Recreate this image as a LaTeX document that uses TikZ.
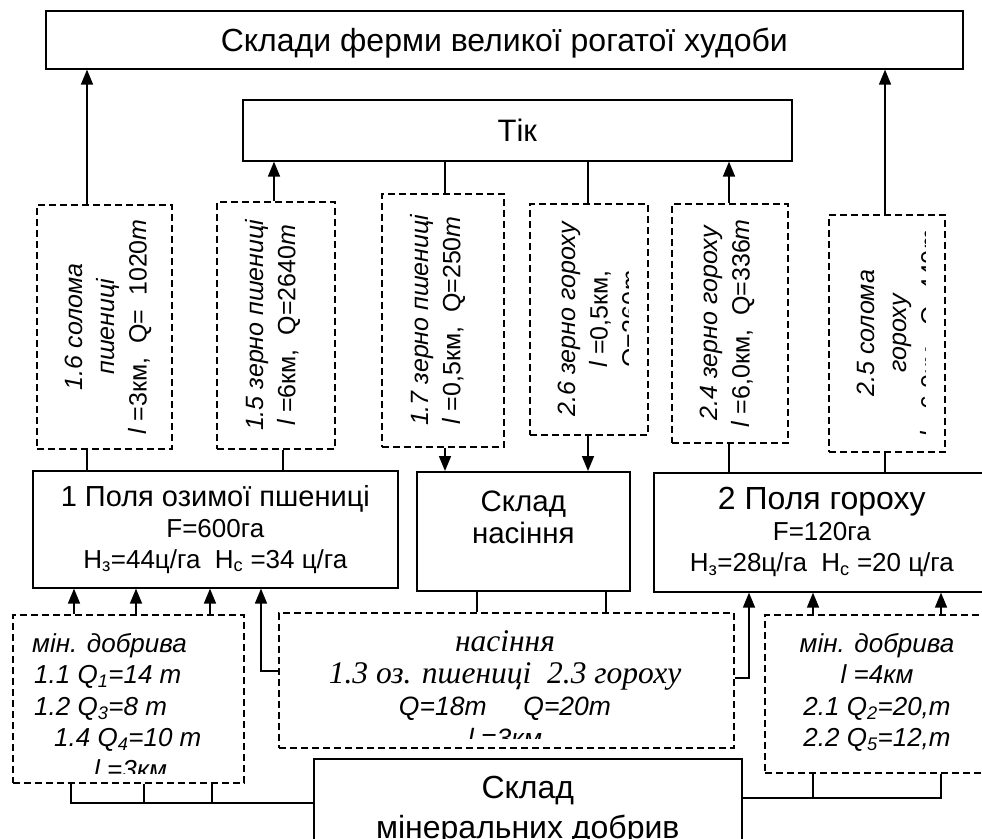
\documentclass[tikz,border=0pt]{standalone}
\usepackage{fontspec}
\setmainfont{Liberation Sans}
\newfontfamily\tnr{Liberation Serif}
\usetikzlibrary{arrows.meta}

\tikzset{
	box/.style={draw,line width=1.6pt,inner sep=0pt,anchor=north west,align=center},
	dashbox/.style={draw,line width=1.5pt,dash pattern={on 7pt off 4pt},inner sep=0pt,anchor=north west},
	flow/.style={line width=1.6pt,-{Triangle[length=15pt,width=12pt]}},
	link/.style={line width=1.6pt},
	vtext/.style={rotate=90,anchor=north,inner sep=0pt,align=center,font=\fontsize{25}{32}\selectfont\itshape},
	ltext/.style={inner sep=0pt,font=\fontsize{26}{31.5}\selectfont\itshape}
}

\begin{document}
\begin{tikzpicture}[x=1pt,y=1pt,yscale=-1,xscale=1]
	\useasboundingbox (0,0) rectangle (982,838);
	\clip (0,0) rectangle (982,838);
	
	%Shape: Rectangle [farm]
	\node[box,minimum width=917pt,minimum height=58pt,text depth=0pt,font=\fontsize{32}{36}\selectfont] (farm) at (45,10) {Склади ферми великої рогатої худоби};
	%Shape: Rectangle [tik]
	\node[box,minimum width=549pt,minimum height=61pt,font=\fontsize{31}{36}\selectfont] (tik) at (242,99) {Тік};
	
	%Shape: Dashed Rectangles (vertical)
	\node[dashbox,minimum width=135pt,minimum height=244pt] (s16) at (36,204) {};
	\node[dashbox,minimum width=118pt,minimum height=247pt] (g15) at (216,201) {};
	\node[dashbox,minimum width=122pt,minimum height=253pt] (g17) at (381,193) {};
	\node[dashbox,minimum width=118pt,minimum height=231pt] (p26) at (529,203) {};
	\node[dashbox,minimum width=116pt,minimum height=239pt] (p24) at (671,203) {};
	\node[dashbox,minimum width=116pt,minimum height=237pt] (s25) at (828,214) {};
	
	% Text Node
	\node[vtext] (t16) at ([xshift=29pt]s16.west) {1.6 солома\\пшениці\\l \textup{=3км,\ \ Q=\ \ 1020}m};
	% Text Node
	\node[vtext] (t15) at ([xshift=29pt]g15.west) {1.5 зерно пшениці\\l \textup{=6км,\ \ Q=2640}m};
	% Text Node
	\node[vtext] (t17) at ([xshift=29pt]g17.west) {1.7 зерно пшениці\\l \textup{=0,5км,\ \ Q=250}m};
	\begin{scope}
		\clip ([shift={(2,2)}]p26.north west) rectangle ([shift={(-20,-2)}]p26.south east);
		% Text Node
		\node[vtext] (t26) at ([xshift=29pt]p26.west) {2.6 зерно гороху\\l \textup{=0,5км,}\\\textup{Q=260}m};
	\end{scope}
	% Text Node
	\node[vtext] (t24) at ([xshift=29pt]p24.west) {2.4 зерно гороху\\l \textup{=6,0км,\ \ Q=336}m};
	\begin{scope}
		\clip ([shift={(2,2)}]s25.north west) rectangle ([shift={(-20,-2)}]s25.south east);
		% Text Node
		\node[vtext] (t25) at ([xshift=29pt]s25.west) {2.5 солома\\гороху\\l \textup{=6,0км,\ \ Q=440}m};
	\end{scope}
	
	%Shape: Rectangle [fields and stores]
	\node[box,minimum width=365pt,minimum height=117pt,font=\fontsize{26}{31}\selectfont] (f1) at (32,470) {{\fontsize{29}{31}\selectfont 1 Поля озимої пшениці}\\F=600га\\H\textsubscript{з}=44ц/га\ \ H\textsubscript{с} =34 ц/га};
	\node[box,minimum width=213pt,minimum height=119pt,text depth=28pt,font=\fontsize{29.5}{32}\selectfont] (sn) at (416,471) {Склад\\насіння};
	\node[box,minimum width=336pt,minimum height=119pt,font=\fontsize{26}{31}\selectfont] (f2) at (653,472) {{\fontsize{32}{31}\selectfont 2 Поля гороху}\\F=120га\\H\textsubscript{з}=28ц/га\ \ H\textsubscript{с} =20 ц/га};
	
	%Shape: Dashed Rectangles (horizontal)
	\node[dashbox,minimum width=231pt,minimum height=168pt] (minL) at (12,614) {};
	\node[dashbox,minimum width=455pt,minimum height=135pt] (ns) at (278,612) {};
	\node[dashbox,minimum width=226pt,minimum height=158pt] (minR) at (764,614) {};
	
	\begin{scope}
		\clip ([shift={(2,2)}]minL.north west) rectangle ([shift={(-2,-10)}]minL.south east);
		% Text Node
		\node[ltext,anchor=north west,align=left] (tminL) at (32,633) {мін. добрива\\\hspace*{2pt}1.1 Q\textsubscript{1}=14 m\\\hspace*{2pt}1.2 Q\textsubscript{3}=8 m\\\hspace*{22pt}1.4 Q\textsubscript{4}=10 m\\\hspace*{62pt}l =3км};
	\end{scope}
	\begin{scope}
		\clip ([shift={(2,2)}]ns.north west) rectangle ([shift={(-2,-10)}]ns.south east);
		% Text Node
		\node[ltext,anchor=north,align=center,font=\fontsize{26.5}{32}\selectfont\itshape] (tns) at (505,630) {{\tnr\fontsize{31.5}{32}\selectfont насіння}\\{\tnr\fontsize{31.5}{32}\selectfont 1.3 оз. пшениці\ \ 2.3 гороху}\\Q=18m\ \ \ \ \ Q=20m\\l =3км};
	\end{scope}
	% Text Node
	\node[ltext,anchor=north,align=center] (tminR) at (877,633) {мін. добрива\\l =4км\\2.1 Q\textsubscript{2}=20,m\\2.2 Q\textsubscript{5}=12,m};
	
	%Shape: Rectangle [mineral store]
	\node[box,minimum width=428pt,minimum height=104pt,font=\fontsize{32}{40}\selectfont] (smd) at (313,758) {Склад\\мінеральних добрив};
	
	% connector positions
	\coordinate (l16) at (87,0);
	\coordinate (l15a) at (274,0);
	\coordinate (l15b) at (283,0);
	\coordinate (l17) at (445,0);
	\coordinate (l26) at (588,0);
	\coordinate (l24) at (729,0);
	\coordinate (l25) at (885,0);
	\coordinate (m11) at (74,0);
	\coordinate (m12) at (136,0);
	\coordinate (m14) at (210,0);
	\coordinate (m21) at (813,0);
	\coordinate (m22) at (941,0);
	\coordinate (n1) at (477,0);
	\coordinate (n2) at (606,0);
	\coordinate (sw) at (261,671);
	\coordinate (sp) at (749,678);
	\coordinate (k1) at (71,803);
	\coordinate (k2) at (144,803);
	\coordinate (k3) at (212,803);
	\coordinate (kr1) at (813,798);
	\coordinate (kr2) at (941,798);
	
	%Straight Lines
	\draw[flow] (s16.north -| l16) -- (farm.south -| l16);
	\draw[link] (f1.north -| l16) -- (s16.south -| l16);
	\draw[flow] (g15.north -| l15a) -- (tik.south -| l15a);
	\draw[link] (f1.north -| l15b) -- (g15.south -| l15b);
	\draw[link] (tik.south -| l17) -- (g17.north -| l17);
	\draw[flow] (g17.south -| l17) -- (sn.north -| l17);
	\draw[link] (tik.south -| l26) -- (p26.north -| l26);
	\draw[flow] (p26.south -| l26) -- (sn.north -| l26);
	\draw[flow] (p24.north -| l24) -- (tik.south -| l24);
	\draw[link] (f2.north -| l24) -- (p24.south -| l24);
	\draw[flow] (s25.north -| l25) -- (farm.south -| l25);
	\draw[link] (f2.north -| l25) -- (s25.south -| l25);
	
	\foreach \c in {m11,m12,m14}
		\draw[flow] (minL.north -| \c) -- (f1.south -| \c);
	\foreach \c in {m21,m22}
		\draw[flow] (minR.north -| \c) -- (f2.south -| \c);
	\foreach \c in {n1,n2}
		\draw[link] (sn.south -| \c) -- (ns.north -| \c);
	
	\draw[flow] (ns.west |- sw) -| (f1.south -| sw);
	\draw[flow] (ns.east |- sp) -| (f2.south -| sp);
	
	\draw[link] (minL.south -| k1) |- (smd.west |- k1);
	\draw[link] (minL.south -| k2) -- (k2);
	\draw[link] (minL.south -| k3) -- (k3);
	\draw[link] (smd.east |- kr2) -| (minR.south -| kr2);
	\draw[link] (minR.south -| kr1) -- (kr1);
	
\end{tikzpicture}
\end{document}
